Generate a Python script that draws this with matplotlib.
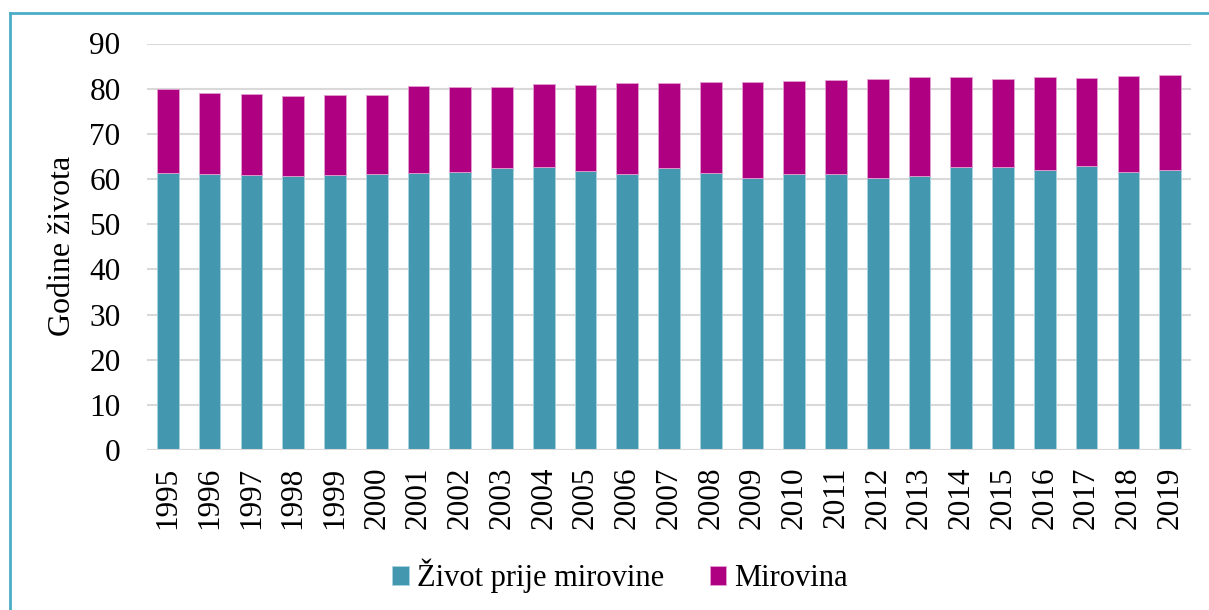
import matplotlib
matplotlib.use("Agg")
import matplotlib.pyplot as plt
from matplotlib.lines import Line2D

years = [str(y) for y in range(1995, 2020)]
prije = [61.3, 61.0, 60.9, 60.7, 60.9, 61.2, 61.4, 61.6, 62.5, 62.7, 61.8, 61.2, 62.5,
         61.4, 60.2, 61.2, 61.0, 60.2, 60.6, 62.7, 62.7, 62.1, 62.95, 61.6, 62.1]
ukupno = [79.9, 79.0, 78.75, 78.3, 78.5, 78.5, 80.6, 80.45, 80.3, 81.0, 80.75, 81.2, 81.2,
          81.5, 81.5, 81.8, 82.0, 82.15, 82.6, 82.6, 82.15, 82.6, 82.3, 82.8, 83.0]
mirovina = [round(t - p, 2) for t, p in zip(ukupno, prije)]
series_names = ["Život prije mirovine", "Mirovina"]
yticks = list(range(0, 91, 10))

c1 = "#4398B0"
c2 = "#AE0080"

plt.rcParams['font.family'] = ['Liberation Serif', 'DejaVu Serif']

fig = plt.figure(figsize=(12.09, 6.10), dpi=100)
ax = fig.add_axes([147/1209, 1 - 450/610, (1191-147)/1209, (450-43.5)/610])

x = list(range(len(years)))
ax.bar(x, prije, width=0.52, color=c1, edgecolor="#a8d4e0", linewidth=0.6, label=series_names[0], zorder=3)
ax.bar(x, mirovina, bottom=prije, width=0.52, color=c2, edgecolor="#e3a0d0", linewidth=0.6, label=series_names[1], zorder=3)

ax.set_xlim(-0.5, len(years) - 0.5)
ax.set_ylim(0, 90)
ax.set_yticks(yticks)
ax.set_xticks(x)
ax.set_xticklabels(years, rotation=90)
ax.tick_params(axis='both', length=0, labelsize=22.5)
ax.tick_params(axis='x', pad=12)
ax.tick_params(axis='y', pad=19)
ax.grid(axis='y', color="#d9d9d9", linewidth=1.5, zorder=0)
for s in ax.spines.values():
    s.set_visible(False)
ax.axhline(0, color="#d9d9d9", linewidth=1.5, zorder=4)

fig.text(62/1209, 1 - 246/610, "Godine života", rotation=90, ha='center', va='center', fontsize=23)

leg = fig.legend(loc='center', bbox_to_anchor=(620/1209, 1 - 576/610), ncol=2, frameon=False,
                 fontsize=22, handlelength=0.55, handleheight=0.55, handletextpad=0.25, columnspacing=1.5)

# Frame: only top and left edges are visible in the reference
fig.add_artist(Line2D([10/1209, 10/1209], [0, 1 - 13/610], transform=fig.transFigure,
                      color="#4BACC6", linewidth=2))
fig.add_artist(Line2D([10/1209, 1], [1 - 13/610, 1 - 13/610], transform=fig.transFigure,
                      color="#4BACC6", linewidth=2))

fig.savefig("out.png", dpi=100)
